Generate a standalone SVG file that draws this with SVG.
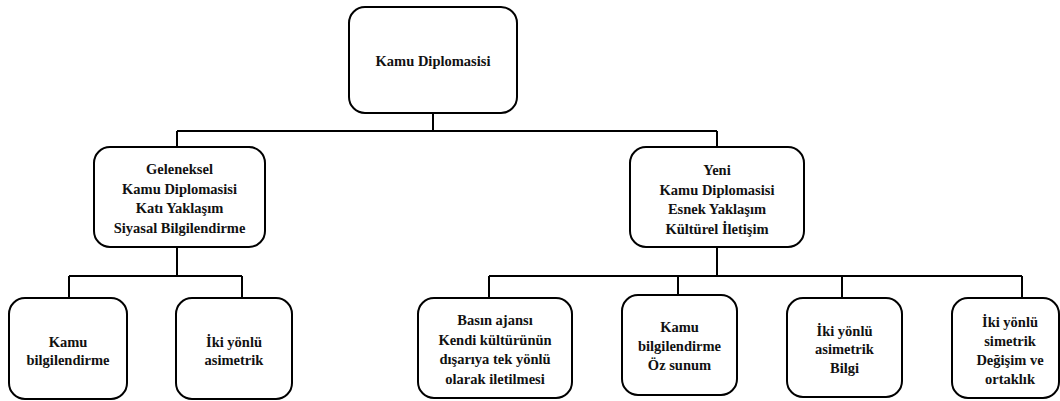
<svg xmlns="http://www.w3.org/2000/svg" width="1060" height="401" viewBox="0 0 1060 401">
<style>
.box{fill:#fff;stroke:#000;stroke-width:2}
.t{font-family:'Liberation Serif','DejaVu Serif',serif;font-weight:700;font-size:14.5px;fill:#111;text-anchor:middle}
.c{fill:none;stroke:#000;stroke-width:2}
</style>
<rect width="1060" height="401" fill="#fff"/>
<g id="connectors">
<path class="c" d="M433 113V131M177 131H717M177 131V147M717 131V147"/>
<path class="c" d="M177 247V276M69 276H242M69 276V298M242 276V298"/>
<path class="c" d="M717 247V276M489 276H1022M489 276V298M678 276V295M842 276V298M1022 276V298"/>
</g>
<g id="n-root"><rect class="box" x="349" y="7" width="168" height="106" rx="16"/>
<text class="t" x="433" y="66">Kamu Diplomasisi</text></g>
<g id="n-geleneksel"><rect class="box" x="94" y="147" width="171" height="100" rx="16"/>
<text class="t" x="179.5" y="174">Geleneksel</text><text class="t" x="179.5" y="193.5">Kamu Diplomasisi</text><text class="t" x="179.5" y="213">Katı Yaklaşım</text><text class="t" x="179.5" y="232.5">Siyasal Bilgilendirme</text></g>
<g id="n-yeni"><rect class="box" x="630" y="147" width="174" height="100" rx="16"/>
<text class="t" x="717" y="175">Yeni</text><text class="t" x="717" y="194.5">Kamu Diplomasisi</text><text class="t" x="717" y="214">Esnek Yaklaşım</text><text class="t" x="717" y="233.5">Kültürel İletişim</text></g>
<g id="n-kamu-bilg"><rect class="box" x="9" y="298" width="118" height="101" rx="16"/>
<text class="t" x="68" y="347">Kamu</text><text class="t" x="68" y="365">bilgilendirme</text></g>
<g id="n-iki-asim"><rect class="box" x="176" y="298" width="116" height="101" rx="16"/>
<text class="t" x="234" y="347">İki yönlü</text><text class="t" x="234" y="365">asimetrik</text></g>
<g id="n-basin"><rect class="box" x="418" y="298" width="154" height="100" rx="16"/>
<text class="t" x="495" y="325">Basın ajansı</text><text class="t" x="495" y="344.5">Kendi kültürünün</text><text class="t" x="495" y="364">dışarıya  tek yönlü</text><text class="t" x="495" y="383.5">olarak iletilmesi</text></g>
<g id="n-oz"><rect class="box" x="622" y="295" width="115" height="100" rx="16"/>
<text class="t" x="679.5" y="332">Kamu</text><text class="t" x="679.5" y="351">bilgilendirme</text><text class="t" x="679.5" y="370">Öz sunum</text></g>
<g id="n-bilgi"><rect class="box" x="787" y="298" width="115" height="99" rx="16"/>
<text class="t" x="844.5" y="335.5">İki yönlü</text><text class="t" x="844.5" y="354">asimetrik</text><text class="t" x="844.5" y="372.5">Bilgi</text></g>
<g id="n-simetrik"><rect class="box" x="952" y="298" width="107" height="100" rx="16"/>
<text class="t" x="1010" y="327">İki yönlü</text><text class="t" x="1010" y="346">simetrik</text><text class="t" x="1010" y="365">Değişim ve</text><text class="t" x="1010" y="383.5">ortaklık</text></g>
</svg>
